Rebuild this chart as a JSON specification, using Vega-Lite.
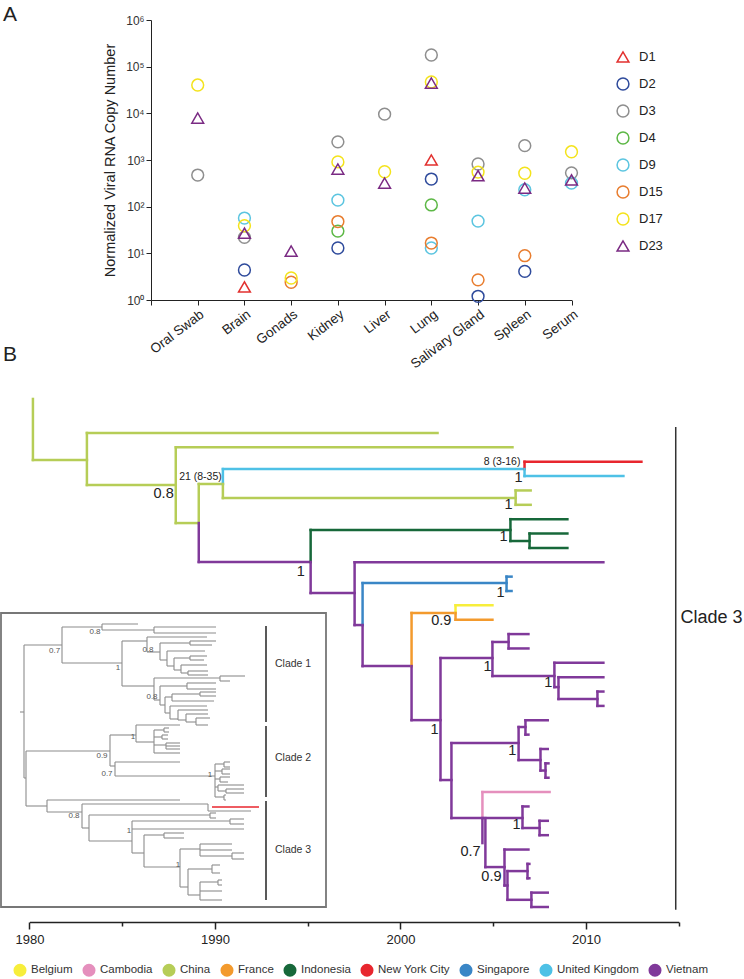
{
  "$schema": "https://vega.github.io/schema/vega-lite/v6.json",
  "width": 744,
  "height": 979,
  "padding": 0,
  "autosize": {"type": "none"},
  "background": "white",
  "config": {"view": {"stroke": null}, "font": "Liberation Sans", "axis": {"grid": false}},
  "resolve": {
    "scale": {"x": "independent", "y": "independent", "color": "independent", "shape": "independent"},
    "axis": {"x": "independent", "y": "independent"},
    "legend": {"color": "independent", "shape": "independent"}
  },
  "layer": [
    {
      "data": {"values": [
        {"tissue":"Oral Swab","donor":"D3","copies":476},
        {"tissue":"Oral Swab","donor":"D17","copies":40400},
        {"tissue":"Oral Swab","donor":"D23","copies":7900},
        {"tissue":"Brain","donor":"D1","copies":1.9},
        {"tissue":"Brain","donor":"D2","copies":4.4},
        {"tissue":"Brain","donor":"D3","copies":22},
        {"tissue":"Brain","donor":"D9","copies":57},
        {"tissue":"Brain","donor":"D17","copies":39},
        {"tissue":"Brain","donor":"D23","copies":27},
        {"tissue":"Gonads","donor":"D15","copies":2.4},
        {"tissue":"Gonads","donor":"D17","copies":2.96},
        {"tissue":"Gonads","donor":"D23","copies":11.2},
        {"tissue":"Kidney","donor":"D2","copies":13},
        {"tissue":"Kidney","donor":"D3","copies":2450},
        {"tissue":"Kidney","donor":"D4","copies":30},
        {"tissue":"Kidney","donor":"D9","copies":138},
        {"tissue":"Kidney","donor":"D15","copies":48},
        {"tissue":"Kidney","donor":"D17","copies":910},
        {"tissue":"Kidney","donor":"D23","copies":640},
        {"tissue":"Liver","donor":"D3","copies":9600},
        {"tissue":"Liver","donor":"D17","copies":560},
        {"tissue":"Liver","donor":"D23","copies":320},
        {"tissue":"Lung","donor":"D1","copies":1000},
        {"tissue":"Lung","donor":"D2","copies":390},
        {"tissue":"Lung","donor":"D3","copies":178000},
        {"tissue":"Lung","donor":"D4","copies":109},
        {"tissue":"Lung","donor":"D9","copies":13},
        {"tissue":"Lung","donor":"D15","copies":16.6},
        {"tissue":"Lung","donor":"D17","copies":47000},
        {"tissue":"Lung","donor":"D23","copies":44500},
        {"tissue":"Salivary Gland","donor":"D2","copies":1.2},
        {"tissue":"Salivary Gland","donor":"D3","copies":820},
        {"tissue":"Salivary Gland","donor":"D9","copies":49},
        {"tissue":"Salivary Gland","donor":"D15","copies":2.7},
        {"tissue":"Salivary Gland","donor":"D17","copies":550},
        {"tissue":"Salivary Gland","donor":"D23","copies":460},
        {"tissue":"Spleen","donor":"D2","copies":4.1},
        {"tissue":"Spleen","donor":"D3","copies":2030},
        {"tissue":"Spleen","donor":"D9","copies":230},
        {"tissue":"Spleen","donor":"D15","copies":8.9},
        {"tissue":"Spleen","donor":"D17","copies":520},
        {"tissue":"Spleen","donor":"D23","copies":250},
        {"tissue":"Serum","donor":"D3","copies":530},
        {"tissue":"Serum","donor":"D9","copies":320},
        {"tissue":"Serum","donor":"D17","copies":1500},
        {"tissue":"Serum","donor":"D23","copies":375}
      ]},
      "mark": {"type": "point", "filled": false, "strokeWidth": 1.5, "size": 140, "opacity": 1},
      "encoding": {
        "x": {"field": "tissue", "type": "nominal",
          "scale": {"type": "point", "domain": ["", "Oral Swab", "Brain", "Gonads", "Kidney", "Liver", "Lung", "Salivary Gland", "Spleen", "Serum"], "range": [151, 571.5], "padding": 0},
          "axis": {"orient": "bottom", "offset": -679, "title": null, "labelAngle": -37, "labelFontSize": 13.5, "labelColor": "#222222", "tickSize": 5, "tickColor": "#222222", "domainColor": "#222222", "labelPadding": 2, "grid": false}},
        "y": {"field": "copies", "type": "quantitative",
          "scale": {"type": "log", "domain": [1, 1000000], "range": [300, 20], "nice": false},
          "axis": {"orient": "left", "offset": -151, "values": [1, 10, 100, 1000, 10000, 100000, 1000000],
            "labelExpr": "datum.value < 5 ? '10⁰' : datum.value < 50 ? '10¹' : datum.value < 500 ? '10²' : datum.value < 5000 ? '10³' : datum.value < 50000 ? '10⁴' : datum.value < 500000 ? '10⁵' : '10⁶'",
            "title": "Normalized Viral RNA Copy Number", "titleFontSize": 14.5, "titleFontWeight": "normal", "titleColor": "#222222", "titlePadding": 8,
            "labelFontSize": 12, "labelColor": "#333333", "tickSize": 5, "tickColor": "#222222", "domainColor": "#222222", "labelPadding": 2, "grid": false}},
        "color": {"field": "donor", "type": "nominal",
          "scale": {"domain": ["D1", "D2", "D3", "D4", "D9", "D15", "D17", "D23"], "range": ["#e2312f", "#2f4b9c", "#8e8e8e", "#5db846", "#5cc5e0", "#e87d2f", "#f4e31c", "#7a2a83"]},
          "legend": {"orient": "none", "legendX": 616, "legendY": 50, "title": null, "symbolSize": 140, "symbolStrokeWidth": 1.5, "labelFontSize": 13, "labelOffset": 9, "rowPadding": 9, "labelColor": "#222222", "padding": 0}},
        "shape": {"field": "donor", "type": "nominal",
          "scale": {"domain": ["D1", "D2", "D3", "D4", "D9", "D15", "D17", "D23"], "range": ["triangle-up", "circle", "circle", "circle", "circle", "circle", "circle", "triangle-up"]},
          "legend": {"orient": "none", "legendX": 616, "legendY": 50, "title": null, "symbolSize": 140, "symbolStrokeWidth": 1.5, "labelFontSize": 13, "labelOffset": 9, "rowPadding": 9, "labelColor": "#222222", "padding": 0}}
      }
    },
    {
      "layer": [
        {
          "data": {"values": [
            {"year":1980.19,"year2":1980.19,"row":-2.37,"row2":1.88,"country":"China"},
            {"year":1980.19,"year2":1983.10,"row":1.88,"row2":1.88,"country":"China"},
            {"year":1983.10,"year2":1983.10,"row":0,"row2":3.62,"country":"China"},
            {"year":1983.10,"year2":2002.00,"row":0,"row2":0,"country":"China"},
            {"year":1983.10,"year2":1987.89,"row":3.62,"row2":3.62,"country":"China"},
            {"year":1987.89,"year2":1987.89,"row":1,"row2":6.27,"country":"China"},
            {"year":1987.89,"year2":2006.04,"row":1,"row2":1,"country":"China"},
            {"year":1987.89,"year2":1989.13,"row":6.27,"row2":6.27,"country":"China"},
            {"year":1989.13,"year2":1989.13,"row":3.55,"row2":6.27,"country":"China"},
            {"year":1989.13,"year2":1989.13,"row":6.27,"row2":8.98,"country":"Vietnam"},
            {"year":1989.13,"year2":1990.43,"row":3.55,"row2":3.55,"country":"China"},
            {"year":1989.13,"year2":1995.16,"row":8.98,"row2":8.98,"country":"Vietnam"},
            {"year":1990.43,"year2":1990.43,"row":2.51,"row2":3.55,"country":"United Kingdom"},
            {"year":1990.43,"year2":1990.43,"row":3.55,"row2":4.53,"country":"China"},
            {"year":1990.43,"year2":2006.69,"row":2.51,"row2":2.51,"country":"United Kingdom"},
            {"year":1990.43,"year2":2006.21,"row":4.53,"row2":4.53,"country":"China"},
            {"year":2006.69,"year2":2006.69,"row":2,"row2":2.51,"country":"New York City"},
            {"year":2006.69,"year2":2006.69,"row":2.51,"row2":3,"country":"United Kingdom"},
            {"year":2006.69,"year2":2012.99,"row":2,"row2":2,"country":"New York City"},
            {"year":2006.69,"year2":2012.02,"row":3,"row2":3,"country":"United Kingdom"},
            {"year":2006.21,"year2":2006.21,"row":4,"row2":5,"country":"China"},
            {"year":2006.21,"year2":2007.02,"row":4,"row2":4,"country":"China"},
            {"year":2006.21,"year2":2007.02,"row":5,"row2":5,"country":"China"},
            {"year":1995.16,"year2":1995.16,"row":6.75,"row2":8.98,"country":"Indonesia"},
            {"year":1995.16,"year2":1995.16,"row":8.98,"row2":11.14,"country":"Vietnam"},
            {"year":1995.16,"year2":2005.93,"row":6.75,"row2":6.75,"country":"Indonesia"},
            {"year":1995.16,"year2":1997.53,"row":11.14,"row2":11.14,"country":"Vietnam"},
            {"year":2005.93,"year2":2005.93,"row":6,"row2":7.52,"country":"Indonesia"},
            {"year":2005.93,"year2":2009.00,"row":6,"row2":6,"country":"Indonesia"},
            {"year":2005.93,"year2":2006.96,"row":7.52,"row2":7.52,"country":"Indonesia"},
            {"year":2006.96,"year2":2006.96,"row":7,"row2":8,"country":"Indonesia"},
            {"year":2006.96,"year2":2009.00,"row":7,"row2":7,"country":"Indonesia"},
            {"year":2006.96,"year2":2009.00,"row":8,"row2":8,"country":"Indonesia"},
            {"year":1997.53,"year2":1997.53,"row":9,"row2":13.37,"country":"Vietnam"},
            {"year":1997.53,"year2":2010.94,"row":9,"row2":9,"country":"Vietnam"},
            {"year":1997.53,"year2":1997.96,"row":13.37,"row2":13.37,"country":"Vietnam"},
            {"year":1997.96,"year2":1997.96,"row":10.45,"row2":13.37,"country":"Singapore"},
            {"year":1997.96,"year2":1997.96,"row":13.37,"row2":16.23,"country":"Vietnam"},
            {"year":1997.96,"year2":2005.72,"row":10.45,"row2":10.45,"country":"Singapore"},
            {"year":2005.72,"year2":2005.72,"row":10,"row2":11,"country":"Singapore"},
            {"year":2005.72,"year2":2005.99,"row":10,"row2":10,"country":"Singapore"},
            {"year":2005.72,"year2":2005.99,"row":11,"row2":11,"country":"Singapore"},
            {"year":1997.96,"year2":2000.60,"row":16.23,"row2":16.23,"country":"Vietnam"},
            {"year":2000.60,"year2":2000.60,"row":12.53,"row2":16.23,"country":"France"},
            {"year":2000.60,"year2":2000.60,"row":16.23,"row2":19.99,"country":"Vietnam"},
            {"year":2000.60,"year2":2002.97,"row":12.53,"row2":12.53,"country":"France"},
            {"year":2002.97,"year2":2002.97,"row":12,"row2":12.53,"country":"Belgium"},
            {"year":2002.97,"year2":2002.97,"row":12.53,"row2":13,"country":"France"},
            {"year":2002.97,"year2":2004.96,"row":12,"row2":12,"country":"Belgium"},
            {"year":2002.97,"year2":2004.96,"row":13,"row2":13,"country":"France"},
            {"year":2000.60,"year2":2002.16,"row":19.99,"row2":19.99,"country":"Vietnam"},
            {"year":2002.16,"year2":2002.16,"row":15.67,"row2":24.16,"country":"Vietnam"},
            {"year":2002.16,"year2":2004.96,"row":15.67,"row2":15.67,"country":"Vietnam"},
            {"year":2004.96,"year2":2004.96,"row":14.55,"row2":16.92,"country":"Vietnam"},
            {"year":2004.96,"year2":2005.83,"row":14.55,"row2":14.55,"country":"Vietnam"},
            {"year":2005.83,"year2":2005.83,"row":14,"row2":15,"country":"Vietnam"},
            {"year":2005.83,"year2":2006.90,"row":14,"row2":14,"country":"Vietnam"},
            {"year":2005.83,"year2":2006.90,"row":15,"row2":15,"country":"Vietnam"},
            {"year":2004.96,"year2":2008.30,"row":16.92,"row2":16.92,"country":"Vietnam"},
            {"year":2008.30,"year2":2008.30,"row":16,"row2":17.69,"country":"Vietnam"},
            {"year":2008.30,"year2":2010.94,"row":16,"row2":16,"country":"Vietnam"},
            {"year":2008.30,"year2":2008.52,"row":17.69,"row2":17.69,"country":"Vietnam"},
            {"year":2008.52,"year2":2008.52,"row":17,"row2":18.52,"country":"Vietnam"},
            {"year":2008.52,"year2":2010.94,"row":17,"row2":17,"country":"Vietnam"},
            {"year":2008.52,"year2":2010.62,"row":18.52,"row2":18.52,"country":"Vietnam"},
            {"year":2010.62,"year2":2010.62,"row":18,"row2":19,"country":"Vietnam"},
            {"year":2010.62,"year2":2010.94,"row":18,"row2":18,"country":"Vietnam"},
            {"year":2010.62,"year2":2010.94,"row":19,"row2":19,"country":"Vietnam"},
            {"year":2002.16,"year2":2002.75,"row":24.16,"row2":24.16,"country":"Vietnam"},
            {"year":2002.75,"year2":2002.75,"row":21.59,"row2":26.81,"country":"Vietnam"},
            {"year":2002.75,"year2":2006.37,"row":21.59,"row2":21.59,"country":"Vietnam"},
            {"year":2006.37,"year2":2006.37,"row":20.47,"row2":22.77,"country":"Vietnam"},
            {"year":2006.37,"year2":2006.74,"row":20.47,"row2":20.47,"country":"Vietnam"},
            {"year":2006.74,"year2":2006.74,"row":20,"row2":21,"country":"Vietnam"},
            {"year":2006.74,"year2":2007.94,"row":20,"row2":20,"country":"Vietnam"},
            {"year":2006.74,"year2":2006.90,"row":21,"row2":21,"country":"Vietnam"},
            {"year":2006.37,"year2":2007.55,"row":22.77,"row2":22.77,"country":"Vietnam"},
            {"year":2007.55,"year2":2007.55,"row":22,"row2":23.5,"country":"Vietnam"},
            {"year":2007.55,"year2":2007.94,"row":22,"row2":22,"country":"Vietnam"},
            {"year":2007.55,"year2":2007.82,"row":23.5,"row2":23.5,"country":"Vietnam"},
            {"year":2007.82,"year2":2007.82,"row":23,"row2":24,"country":"Vietnam"},
            {"year":2007.82,"year2":2007.98,"row":23,"row2":23,"country":"Vietnam"},
            {"year":2007.82,"year2":2007.98,"row":24,"row2":24,"country":"Vietnam"},
            {"year":2002.75,"year2":2004.42,"row":26.81,"row2":26.81,"country":"Vietnam"},
            {"year":2004.42,"year2":2004.42,"row":25,"row2":26.81,"country":"Cambodia"},
            {"year":2004.42,"year2":2008.04,"row":25,"row2":25,"country":"Cambodia"},
            {"year":2004.42,"year2":2004.42,"row":26.81,"row2":28.55,"country":"Vietnam"},
            {"year":2004.58,"year2":2004.58,"row":26.81,"row2":30.22,"country":"Vietnam"},
            {"year":2004.42,"year2":2006.58,"row":26.81,"row2":26.81,"country":"Vietnam"},
            {"year":2006.58,"year2":2006.58,"row":26,"row2":27.5,"country":"Vietnam"},
            {"year":2006.58,"year2":2006.90,"row":26,"row2":26,"country":"Vietnam"},
            {"year":2006.58,"year2":2007.50,"row":27.5,"row2":27.5,"country":"Vietnam"},
            {"year":2007.50,"year2":2007.50,"row":27,"row2":28,"country":"Vietnam"},
            {"year":2007.50,"year2":2007.94,"row":27,"row2":27,"country":"Vietnam"},
            {"year":2007.50,"year2":2007.94,"row":28,"row2":28,"country":"Vietnam"},
            {"year":2004.58,"year2":2005.61,"row":30.22,"row2":30.22,"country":"Vietnam"},
            {"year":2005.61,"year2":2005.61,"row":29,"row2":31.5,"country":"Vietnam"},
            {"year":2005.61,"year2":2006.90,"row":29,"row2":29,"country":"Vietnam"},
            {"year":2005.61,"year2":2005.77,"row":31.5,"row2":31.5,"country":"Vietnam"},
            {"year":2005.77,"year2":2005.77,"row":30.5,"row2":32.5,"country":"Vietnam"},
            {"year":2005.77,"year2":2006.85,"row":30.5,"row2":30.5,"country":"Vietnam"},
            {"year":2006.85,"year2":2006.85,"row":30,"row2":31,"country":"Vietnam"},
            {"year":2006.85,"year2":2006.95,"row":30,"row2":30,"country":"Vietnam"},
            {"year":2006.85,"year2":2006.95,"row":31,"row2":31,"country":"Vietnam"},
            {"year":2005.77,"year2":2007.06,"row":32.5,"row2":32.5,"country":"Vietnam"},
            {"year":2007.06,"year2":2007.06,"row":32,"row2":33,"country":"Vietnam"},
            {"year":2007.06,"year2":2007.94,"row":32,"row2":32,"country":"Vietnam"},
            {"year":2007.06,"year2":2007.94,"row":33,"row2":33,"country":"Vietnam"}
          ]},
          "mark": {"type": "rule", "strokeWidth": 2.5, "strokeCap": "square"},
          "encoding": {
            "x": {"field": "year", "type": "quantitative",
              "scale": {"domain": [1980, 2015], "range": [29.4, 678.7], "zero": false, "nice": false},
              "axis": {"orient": "bottom", "offset": -57, "title": null, "values": [1980, 1985, 1990, 1995, 2000, 2005, 2010, 2015], "format": "d",
                "labelExpr": "datum.value % 10 === 0 ? datum.label : ''",
                "tickSize": {"condition": {"test": "datum.value % 10 === 0", "value": 7}, "value": 4},
                "labelOverlap": false, "labelBound": false, "labelFlush": false,
                "domainColor": "#222222", "tickColor": "#222222", "domainWidth": 1.5, "tickWidth": 1.5,
                "labelFontSize": 13, "labelColor": "#222222", "labelPadding": 4, "grid": false}},
            "x2": {"field": "year2"},
            "y": {"field": "row", "type": "quantitative", "scale": {"domain": [0, 33], "range": [433, 907], "zero": false, "nice": false}, "axis": null},
            "y2": {"field": "row2"},
            "color": {"field": "country", "type": "nominal",
              "scale": {"domain": ["Belgium", "Cambodia", "China", "France", "Indonesia", "New York City", "Singapore", "United Kingdom", "Vietnam"],
                "range": ["#f7ee3b", "#e58fbd", "#b6cd57", "#f39a2d", "#17683a", "#e8262e", "#3a86c6", "#4ec1e6", "#80399a"]},
              "legend": null}
          }
        },
        {
          "data": {"values": [{"year": 2014.84, "year2": 2014.84, "row": -0.42, "row2": 33.2}]},
          "mark": {"type": "rule", "strokeWidth": 1.5, "color": "#333333"},
          "encoding": {
            "x": {"field": "year", "type": "quantitative", "scale": {"domain": [1980, 2015], "range": [29.4, 678.7], "zero": false, "nice": false}},
            "x2": {"field": "year2"},
            "y": {"field": "row", "type": "quantitative", "scale": {"domain": [0, 33], "range": [433, 907], "zero": false, "nice": false}, "axis": null},
            "y2": {"field": "row2"}
          }
        },
        {
          "data": {"values": [
            {"year":1987.78,"row":4.25,"label":"0.8"},
            {"year":2006.58,"row":3.13,"label":"1"},
            {"year":2006.05,"row":5.0,"label":"1"},
            {"year":2005.77,"row":7.24,"label":"1"},
            {"year":1994.85,"row":9.68,"label":"1"},
            {"year":2005.61,"row":11.14,"label":"1"},
            {"year":2002.75,"row":13.09,"label":"0.9"},
            {"year":2004.91,"row":16.3,"label":"1"},
            {"year":2008.19,"row":17.41,"label":"1"},
            {"year":2002.06,"row":20.68,"label":"1"},
            {"year":2006.25,"row":22.14,"label":"1"},
            {"year":2006.47,"row":27.3,"label":"1"},
            {"year":2004.32,"row":29.18,"label":"0.7"},
            {"year":2005.45,"row":30.92,"label":"0.9"}
          ]},
          "mark": {"type": "text", "align": "right", "baseline": "middle", "fontSize": 14.5, "color": "#222222"},
          "encoding": {
            "x": {"field": "year", "type": "quantitative", "scale": {"domain": [1980, 2015], "range": [29.4, 678.7], "zero": false, "nice": false}},
            "y": {"field": "row", "type": "quantitative", "scale": {"domain": [0, 33], "range": [433, 907], "zero": false, "nice": false}, "axis": null},
            "text": {"field": "label"}
          }
        },
        {
          "data": {"values": [
            {"year":1990.37,"row":3.06,"label":"21 (8-35)"},
            {"year":2006.47,"row":2.0,"label":"8 (3-16)"}
          ]},
          "mark": {"type": "text", "align": "right", "baseline": "middle", "fontSize": 10.5, "color": "#222222"},
          "encoding": {
            "x": {"field": "year", "type": "quantitative", "scale": {"domain": [1980, 2015], "range": [29.4, 678.7], "zero": false, "nice": false}},
            "y": {"field": "row", "type": "quantitative", "scale": {"domain": [0, 33], "range": [433, 907], "zero": false, "nice": false}, "axis": null},
            "text": {"field": "label"}
          }
        },
        {
          "data": {"values": [{"year": 2015.1, "row": 12.88, "label": "Clade 3"}]},
          "mark": {"type": "text", "align": "left", "baseline": "middle", "fontSize": 18, "color": "#222222"},
          "encoding": {
            "x": {"field": "year", "type": "quantitative", "scale": {"domain": [1980, 2015], "range": [29.4, 678.7], "zero": false, "nice": false}},
            "y": {"field": "row", "type": "quantitative", "scale": {"domain": [0, 33], "range": [433, 907], "zero": false, "nice": false}, "axis": null},
            "text": {"field": "label"}
          }
        },
        {
          "data": {"values": [
            {"year": 1978.58, "row": -29.1, "label": "A"},
            {"year": 1978.58, "row": -5.43, "label": "B"}
          ]},
          "mark": {"type": "text", "align": "left", "baseline": "middle", "fontSize": 21, "color": "#222222"},
          "encoding": {
            "x": {"field": "year", "type": "quantitative", "scale": {"domain": [1980, 2015], "range": [29.4, 678.7], "zero": false, "nice": false}},
            "y": {"field": "row", "type": "quantitative", "scale": {"domain": [0, 33], "range": [433, 907], "zero": false, "nice": false}, "axis": null},
            "text": {"field": "label"}
          }
        }
      ]
    },
    {
      "layer": [
        {
          "data": {"values": [{"d": -9.5, "d2": 153, "k": 0, "k2": 147}]},
          "mark": {"type": "rect", "filled": false, "stroke": "#777777", "strokeWidth": 1.8},
          "encoding": {
            "x": {"field": "d", "type": "quantitative", "scale": {"domain": [-9.5, 153], "range": [1, 326], "zero": false, "nice": false}, "axis": null},
            "x2": {"field": "d2"},
            "y": {"field": "k", "type": "quantitative", "scale": {"domain": [0, 147], "range": [613, 907], "zero": false, "nice": false}, "axis": null},
            "y2": {"field": "k2"}
          }
        },
        {
          "data": {"values": [
            {"d":0,"d2":2,"k":49.5,"k2":49.5},{"d":2,"d2":2,"k":16,"k2":82.5},{"d":2,"d2":21,"k":16,"k2":16},{"d":2,"d2":3,"k":82.5,"k2":82.5},{"d":3,"d2":3,"k":69,"k2":96.5},
            {"d":21,"d2":21,"k":7,"k2":25},{"d":21,"d2":41,"k":7,"k2":7},{"d":41,"d2":41,"k":5.5,"k2":8.5},{"d":41,"d2":59,"k":5.5,"k2":5.5},{"d":41,"d2":67,"k":8.5,"k2":8.5},
            {"d":67,"d2":67,"k":7,"k2":10},{"d":67,"d2":98,"k":7,"k2":7},{"d":67,"d2":98,"k":10,"k2":10},{"d":21,"d2":51,"k":25,"k2":25},{"d":51,"d2":51,"k":14,"k2":36.5},
            {"d":51,"d2":63.5,"k":14,"k2":14},{"d":63.5,"d2":63.5,"k":12,"k2":19.5},{"d":63.5,"d2":93.5,"k":12,"k2":12},{"d":63.5,"d2":70,"k":19.5,"k2":19.5},{"d":70,"d2":70,"k":15,"k2":23.5},
            {"d":70,"d2":85,"k":15,"k2":15},{"d":85,"d2":85,"k":14,"k2":16},{"d":85,"d2":98,"k":14,"k2":14},{"d":85,"d2":96,"k":16,"k2":16},{"d":70,"d2":73.5,"k":23.5,"k2":23.5},
            {"d":73.5,"d2":73.5,"k":19,"k2":26.5},{"d":73.5,"d2":92.5,"k":19,"k2":19},{"d":73.5,"d2":77,"k":26.5,"k2":26.5},{"d":77,"d2":77,"k":22.5,"k2":28.5},{"d":77,"d2":85,"k":22.5,"k2":22.5},
            {"d":85,"d2":85,"k":21.5,"k2":23.5},{"d":85,"d2":93.5,"k":21.5,"k2":21.5},{"d":85,"d2":92,"k":23.5,"k2":23.5},{"d":77,"d2":80.5,"k":28.5,"k2":28.5},{"d":80.5,"d2":80.5,"k":26,"k2":30},
            {"d":80.5,"d2":93.5,"k":26,"k2":26},{"d":80.5,"d2":84,"k":30,"k2":30},{"d":84,"d2":84,"k":29,"k2":31},{"d":84,"d2":94,"k":29,"k2":29},{"d":84,"d2":94,"k":31,"k2":31},
            {"d":51,"d2":67,"k":36.5,"k2":36.5},{"d":67,"d2":67,"k":32.5,"k2":43.5},{"d":67,"d2":100,"k":32.5,"k2":32.5},{"d":100,"d2":100,"k":31.5,"k2":34},{"d":100,"d2":112.5,"k":31.5,"k2":31.5},
            {"d":100,"d2":105,"k":34,"k2":34},{"d":67,"d2":70,"k":43.5,"k2":43.5},{"d":70,"d2":70,"k":36.5,"k2":46},{"d":70,"d2":83.5,"k":36.5,"k2":36.5},{"d":83.5,"d2":83.5,"k":35,"k2":38},
            {"d":83.5,"d2":98,"k":35,"k2":35},{"d":83.5,"d2":98,"k":38,"k2":38},{"d":70,"d2":72.5,"k":46,"k2":46},{"d":72.5,"d2":72.5,"k":42,"k2":50},{"d":72.5,"d2":76,"k":42,"k2":42},
            {"d":76,"d2":76,"k":40.5,"k2":44},{"d":76,"d2":90,"k":40.5,"k2":40.5},{"d":90,"d2":90,"k":39.5,"k2":41.5},{"d":90,"d2":98,"k":39.5,"k2":39.5},{"d":90,"d2":98,"k":41.5,"k2":41.5},
            {"d":76,"d2":97,"k":44,"k2":44},{"d":72.5,"d2":75,"k":50,"k2":50},{"d":75,"d2":75,"k":46.5,"k2":53},{"d":75,"d2":93.5,"k":46.5,"k2":46.5},{"d":75,"d2":79,"k":53,"k2":53},
            {"d":79,"d2":79,"k":48.5,"k2":53.5},{"d":79,"d2":94,"k":48.5,"k2":48.5},{"d":79,"d2":83,"k":53.5,"k2":53.5},{"d":83,"d2":83,"k":50.5,"k2":54.5},{"d":83,"d2":94,"k":50.5,"k2":50.5},
            {"d":83,"d2":88,"k":54.5,"k2":54.5},{"d":88,"d2":88,"k":52.5,"k2":56},{"d":88,"d2":95,"k":52.5,"k2":52.5},{"d":88,"d2":94,"k":56,"k2":56},
            {"d":3,"d2":45,"k":69,"k2":69},{"d":45,"d2":45,"k":61,"k2":76.5},{"d":45,"d2":58,"k":61,"k2":61},{"d":58,"d2":58,"k":56,"k2":64.5},{"d":58,"d2":80,"k":56,"k2":56},
            {"d":58,"d2":67,"k":64.5,"k2":64.5},{"d":67,"d2":67,"k":58.5,"k2":70},{"d":67,"d2":72,"k":58.5,"k2":58.5},{"d":72,"d2":72,"k":57.5,"k2":59.5},{"d":72,"d2":74.5,"k":57.5,"k2":57.5},
            {"d":72,"d2":74.5,"k":59.5,"k2":59.5},{"d":67,"d2":71,"k":62,"k2":62},{"d":71,"d2":71,"k":61,"k2":63},{"d":71,"d2":74,"k":61,"k2":61},{"d":71,"d2":74,"k":63,"k2":63},
            {"d":67,"d2":73,"k":66,"k2":66},{"d":73,"d2":73,"k":65,"k2":68},{"d":73,"d2":80,"k":65,"k2":65},{"d":73,"d2":80,"k":66.5,"k2":66.5},{"d":73,"d2":80,"k":68,"k2":68},
            {"d":67,"d2":80,"k":70,"k2":70},{"d":45,"d2":47.5,"k":76.5,"k2":76.5},{"d":47.5,"d2":47.5,"k":74.5,"k2":81.5},{"d":47.5,"d2":80,"k":74.5,"k2":74.5},{"d":47.5,"d2":97.5,"k":81.5,"k2":81.5},
            {"d":97.5,"d2":97.5,"k":75.5,"k2":92},{"d":97.5,"d2":102,"k":75.5,"k2":75.5},{"d":102,"d2":102,"k":74.5,"k2":77},{"d":102,"d2":105,"k":74.5,"k2":74.5},{"d":102,"d2":105,"k":77,"k2":77},
            {"d":97.5,"d2":101,"k":79,"k2":79},{"d":101,"d2":101,"k":78,"k2":80.5},{"d":101,"d2":105,"k":78,"k2":78},{"d":101,"d2":105,"k":80.5,"k2":80.5},{"d":97.5,"d2":100,"k":83,"k2":83},
            {"d":100,"d2":100,"k":82,"k2":84.5},{"d":100,"d2":105,"k":82,"k2":82},{"d":100,"d2":104,"k":84.5,"k2":84.5},{"d":97.5,"d2":99,"k":87,"k2":87},{"d":99,"d2":99,"k":86,"k2":89},
            {"d":99,"d2":112,"k":86,"k2":86},{"d":99,"d2":103,"k":89,"k2":89},{"d":103,"d2":103,"k":88,"k2":90},{"d":103,"d2":112,"k":88,"k2":88},{"d":103,"d2":112,"k":90,"k2":90},
            {"d":97.5,"d2":102,"k":92,"k2":92},{"d":102,"d2":102,"k":91,"k2":93.5},{"d":102,"d2":103,"k":91,"k2":91},{"d":102,"d2":103,"k":93.5,"k2":93.5},
            {"d":3,"d2":13.5,"k":96.5,"k2":96.5},{"d":13.5,"d2":13.5,"k":93.5,"k2":99.5},{"d":13.5,"d2":80,"k":93.5,"k2":93.5},{"d":13.5,"d2":31,"k":99.5,"k2":99.5},{"d":31,"d2":31,"k":95.5,"k2":107.5},
            {"d":31,"d2":94,"k":95.5,"k2":95.5},{"d":94,"d2":94,"k":95.5,"k2":99},{"d":94,"d2":115.5,"k":99,"k2":99},{"d":31,"d2":34.5,"k":107.5,"k2":107.5},{"d":34.5,"d2":34.5,"k":101,"k2":114},
            {"d":34.5,"d2":95,"k":101,"k2":101},{"d":95,"d2":95,"k":100,"k2":102.5},{"d":95,"d2":98,"k":100,"k2":100},{"d":95,"d2":98,"k":102.5,"k2":102.5},{"d":34.5,"d2":56,"k":114,"k2":114},
            {"d":56,"d2":56,"k":104,"k2":120},{"d":56,"d2":105,"k":104,"k2":104},{"d":105,"d2":105,"k":103,"k2":105.5},{"d":105,"d2":112,"k":103,"k2":103},{"d":105,"d2":112,"k":105.5,"k2":105.5},
            {"d":56,"d2":112,"k":108,"k2":108},{"d":56,"d2":62,"k":120,"k2":120},{"d":62,"d2":62,"k":111,"k2":127},{"d":62,"d2":72,"k":111,"k2":111},{"d":72,"d2":72,"k":110,"k2":112.5},
            {"d":72,"d2":82,"k":110,"k2":110},{"d":72,"d2":82,"k":112.5,"k2":112.5},{"d":62,"d2":80,"k":127,"k2":127},{"d":80,"d2":80,"k":118,"k2":137},{"d":80,"d2":90,"k":118,"k2":118},
            {"d":90,"d2":90,"k":115.5,"k2":121.5},{"d":90,"d2":106,"k":115.5,"k2":115.5},{"d":90,"d2":106,"k":118.5,"k2":118.5},{"d":90,"d2":106,"k":121.5,"k2":121.5},{"d":106,"d2":106,"k":120,"k2":123},
            {"d":106,"d2":112,"k":120,"k2":120},{"d":106,"d2":112,"k":123,"k2":123},{"d":80,"d2":84,"k":137,"k2":137},{"d":84,"d2":84,"k":128,"k2":141},{"d":84,"d2":96,"k":128,"k2":128},
            {"d":96,"d2":96,"k":126,"k2":130},{"d":96,"d2":100,"k":126,"k2":126},{"d":96,"d2":100,"k":130,"k2":130},{"d":84,"d2":90,"k":141,"k2":141},{"d":90,"d2":90,"k":134.5,"k2":143.5},
            {"d":90,"d2":99,"k":134.5,"k2":134.5},{"d":99,"d2":99,"k":133.5,"k2":136},{"d":99,"d2":101,"k":133.5,"k2":133.5},{"d":99,"d2":101,"k":136,"k2":136},{"d":90,"d2":101,"k":139,"k2":139},
            {"d":90,"d2":101,"k":143.5,"k2":143.5}
          ]},
          "mark": {"type": "rule", "color": "#8c8c8c", "strokeWidth": 1.1},
          "encoding": {
            "x": {"field": "d", "type": "quantitative", "scale": {"domain": [-9.5, 153], "range": [1, 326], "zero": false, "nice": false}, "axis": null},
            "x2": {"field": "d2"},
            "y": {"field": "k", "type": "quantitative", "scale": {"domain": [0, 147], "range": [613, 907], "zero": false, "nice": false}, "axis": null},
            "y2": {"field": "k2"}
          }
        },
        {
          "data": {"values": [{"d": 96, "d2": 119.5, "k": 97, "k2": 97}]},
          "mark": {"type": "rule", "color": "#e8262e", "strokeWidth": 1.3},
          "encoding": {
            "x": {"field": "d", "type": "quantitative", "scale": {"domain": [-9.5, 153], "range": [1, 326], "zero": false, "nice": false}, "axis": null},
            "x2": {"field": "d2"},
            "y": {"field": "k", "type": "quantitative", "scale": {"domain": [0, 147], "range": [613, 907], "zero": false, "nice": false}, "axis": null},
            "y2": {"field": "k2"}
          }
        },
        {
          "data": {"values": [
            {"d": 123, "d2": 123, "k": 6.5, "k2": 54.5},
            {"d": 123, "d2": 123, "k": 56.5, "k2": 92},
            {"d": 123, "d2": 123, "k": 94, "k2": 143.5}
          ]},
          "mark": {"type": "rule", "color": "#222222", "strokeWidth": 1.5},
          "encoding": {
            "x": {"field": "d", "type": "quantitative", "scale": {"domain": [-9.5, 153], "range": [1, 326], "zero": false, "nice": false}, "axis": null},
            "x2": {"field": "d2"},
            "y": {"field": "k", "type": "quantitative", "scale": {"domain": [0, 147], "range": [613, 907], "zero": false, "nice": false}, "axis": null},
            "y2": {"field": "k2"}
          }
        },
        {
          "data": {"values": [
            {"d": 17.3, "k": 19, "label": "0.7"},
            {"d": 37.5, "k": 9.5, "label": "0.8"},
            {"d": 64, "k": 18.5, "label": "0.8"},
            {"d": 49, "k": 27.5, "label": "1"},
            {"d": 66, "k": 42, "label": "0.8"},
            {"d": 56.5, "k": 62, "label": "1"},
            {"d": 41, "k": 71.5, "label": "0.9"},
            {"d": 43.5, "k": 80.5, "label": "0.7"},
            {"d": 95, "k": 81, "label": "1"},
            {"d": 27, "k": 101.5, "label": "0.8"},
            {"d": 54.5, "k": 109, "label": "1"},
            {"d": 79, "k": 126, "label": "1"}
          ]},
          "mark": {"type": "text", "align": "center", "baseline": "middle", "fontSize": 8, "color": "#555555"},
          "encoding": {
            "x": {"field": "d", "type": "quantitative", "scale": {"domain": [-9.5, 153], "range": [1, 326], "zero": false, "nice": false}, "axis": null},
            "y": {"field": "k", "type": "quantitative", "scale": {"domain": [0, 147], "range": [613, 907], "zero": false, "nice": false}, "axis": null},
            "text": {"field": "label"}
          }
        },
        {
          "data": {"values": [
            {"d": 127.5, "k": 25.5, "label": "Clade 1"},
            {"d": 127.5, "k": 72.5, "label": "Clade 2"},
            {"d": 127.5, "k": 118.5, "label": "Clade 3"}
          ]},
          "mark": {"type": "text", "align": "left", "baseline": "middle", "fontSize": 10.5, "color": "#333333"},
          "encoding": {
            "x": {"field": "d", "type": "quantitative", "scale": {"domain": [-9.5, 153], "range": [1, 326], "zero": false, "nice": false}, "axis": null},
            "y": {"field": "k", "type": "quantitative", "scale": {"domain": [0, 147], "range": [613, 907], "zero": false, "nice": false}, "axis": null},
            "text": {"field": "label"}
          }
        }
      ]
    },
    {
      "data": {"values": [
        {"country": "Belgium"}, {"country": "Cambodia"}, {"country": "China"}, {"country": "France"}, {"country": "Indonesia"},
        {"country": "New York City"}, {"country": "Singapore"}, {"country": "United Kingdom"}, {"country": "Vietnam"}
      ]},
      "mark": {"type": "point", "filled": true, "opacity": 0},
      "encoding": {
        "color": {"field": "country", "type": "nominal",
          "scale": {"domain": ["Belgium", "Cambodia", "China", "France", "Indonesia", "New York City", "Singapore", "United Kingdom", "Vietnam"],
            "range": ["#f7ee3b", "#e58fbd", "#b6cd57", "#f39a2d", "#17683a", "#e8262e", "#3a86c6", "#4ec1e6", "#80399a"]},
          "legend": {"orient": "none", "legendX": 13, "legendY": 963, "direction": "horizontal", "title": null, "symbolType": "circle", "symbolSize": 170,
            "symbolOpacity": 1, "symbolStrokeWidth": 0, "labelFontSize": 11.5, "labelColor": "#333333", "columnPadding": 9, "labelOffset": 4, "padding": 0}}
      }
    }
  ]
}
